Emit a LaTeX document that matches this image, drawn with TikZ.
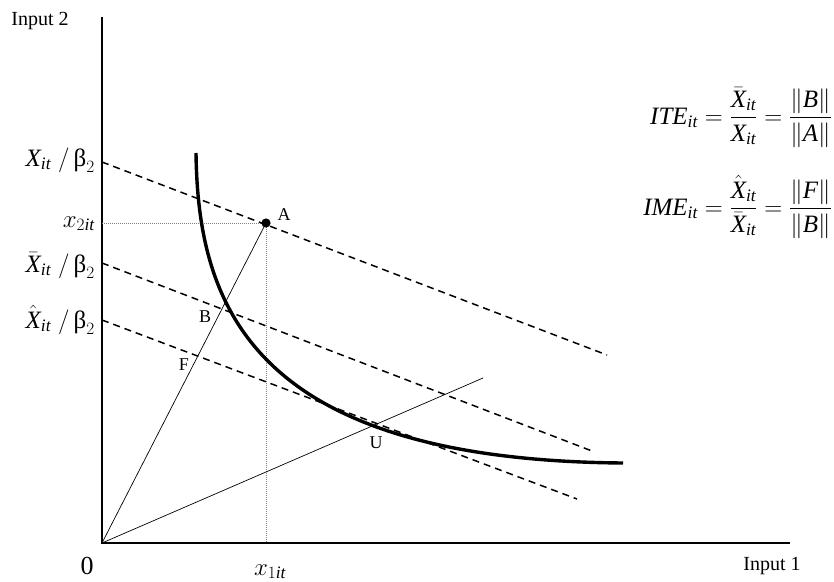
\documentclass[tikz,border=0pt]{standalone}
\usepackage{amsmath}
\usepackage{fontspec}
\setmainfont{Liberation Serif}

\newcommand{\Xv}{\mathit{X}}
\newcommand{\subit}{_{\mathit{it}}}

\begin{document}
\begin{tikzpicture}[x=1pt, y=-1pt,
    axis/.style={line width=1.8pt},
    budget/.style={line width=1.5pt, dash pattern=on 7pt off 5pt},
    ray/.style={line width=0.7pt},
    guide/.style={gray, line width=0.6pt, dash pattern=on 1pt off 1pt},
    isoquant/.style={line width=3.4pt},
    txt/.style={font=\fontsize{20}{24}\selectfont, inner sep=0pt},
    ylbl/.style={font=\fontsize{25}{30}\selectfont, inner sep=0pt, anchor=base east},
    ptlbl/.style={font=\fontsize{18}{22}\selectfont, inner sep=0pt},
    eqn/.style={font=\fontsize{25}{30}\selectfont, inner sep=0pt, anchor=base east}]
    \useasboundingbox (0,0) rectangle (834,581);

    % Draw points
    \coordinate (O) at (102,543);
    \coordinate (ytop) at (102,17);
    \coordinate (xend) at (790,543);
    \coordinate (A) at (266,223);
    \coordinate (Ay) at (102,223);
    \coordinate (Ax) at (266,543);
    \coordinate (Uend) at (483,378);
    \coordinate (c1) at (102,162);
    \coordinate (c2) at (102,263);
    \coordinate (c3) at (102,320);
    \coordinate (d1) at (607,355);
    \coordinate (d2) at (592,451);
    \coordinate (d3) at (577,499);
    \coordinate (q0) at (196,153);
    \coordinate (q1) at (623,463);

    % Draw axes
    \draw[axis] (ytop) -- (O) -- (xend);

    % Draw guides
    \draw[guide] (Ay) -- (A) -- (Ax);

    % Draw rays
    \draw[ray] (O) -- (A);
    \draw[ray] (O) -- (Uend);

    % Draw cost lines
    \draw[budget] (c1) -- (d1);
    \draw[budget] (c2) -- (d2);
    \draw[budget] (c3) -- (d3);

    % Draw isoquant
    \draw[isoquant] (q0) .. controls (198,303) and (249,460) .. (q1);

    \fill (A) circle (4.6);

    % Draw labels
    \node[ptlbl] (lA) at (284,215) {A};
    \node[ptlbl] (lB) at (205,317) {B};
    \node[ptlbl] (lF) at (184,365) {F};
    \node[ptlbl] (lU) at (376,443) {U};

    \node[txt] (in2) at (40,21) {Input 2};
    \node[txt] (in1) at (772,566) {Input 1};
    \node[font=\fontsize{26}{28}\selectfont, inner sep=0pt] (zero) at (87,566) {0};
    \node[ylbl, anchor=base] (x1) at (270,575) {$x_{1\mathit{it}}$};

    \node[ylbl] (y1) at (95,166) {$\Xv\subit\;/\,\text{β}_2$};
    \node[ylbl] (x2) at (95,227) {$x_{2\mathit{it}}$};
    \node[ylbl] (y2) at (95,272) {$\bar{\Xv}\subit\;/\,\text{β}_2$};
    \node[ylbl] (y3) at (95,328) {$\hat{\Xv}\subit\;/\,\text{β}_2$};

    \node[eqn] (ite) at (832,124) {$\mathit{ITE}\subit = \dfrac{\bar{\Xv}\subit}{\Xv\subit} = \dfrac{\lVert \mathit{B}\rVert}{\lVert \mathit{A}\rVert}$};
    \node[eqn] (ime) at (832,215) {$\mathit{IME}\subit = \dfrac{\hat{\Xv}\subit}{\bar{\Xv}\subit} = \dfrac{\lVert \mathit{F}\rVert}{\lVert \mathit{B}\rVert}$};
\end{tikzpicture}
\end{document}
